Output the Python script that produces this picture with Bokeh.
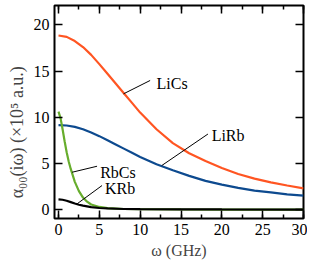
from bokeh.plotting import figure
from bokeh.models import LinearAxis, SingleIntervalTicker, Range1d, Label, CustomLabelingPolicy
from bokeh.embed import file_html
from bokeh.resources import INLINE

# ---- data ----
omega_main = [0, 1, 2, 3, 4, 5, 6, 7, 8, 9, 10, 12, 14, 16, 18, 20, 22, 24, 26, 28, 30]
lics = [18.85, 18.7, 18.25, 17.6, 16.75, 15.75, 14.7, 13.65, 12.6, 11.55, 10.5,
        8.7, 7.2, 6.1, 5.25, 4.5, 3.85, 3.35, 2.95, 2.6, 2.3]
lirb = [9.15, 9.1, 8.95, 8.7, 8.35, 7.95, 7.5, 7.05, 6.6, 6.15, 5.7,
        4.9, 4.25, 3.65, 3.1, 2.7, 2.35, 2.05, 1.85, 1.65, 1.5]
omega_rbcs = [0, 0.25, 0.5, 0.75, 1, 1.25, 1.5, 1.75, 2, 2.5, 3, 3.5, 4, 5, 6, 8, 10, 15, 20, 30]
rbcs = [10.6, 9.9, 8.7, 7.4, 6.2, 5.2, 4.4, 3.7, 3.0, 2.0, 1.3, 0.85, 0.55, 0.28, 0.15,
        0.06, 0.03, 0.01, 0.0, 0.0]
omega_krb = [0, 0.5, 1, 1.5, 2, 2.5, 3, 4, 5, 6, 8, 10, 15, 20, 30]
krb = [1.1, 1.06, 0.95, 0.8, 0.65, 0.52, 0.42, 0.27, 0.17, 0.12, 0.06, 0.04, 0.02, 0.01, 0.0]

series_names = ["LiCs", "LiRb", "RbCs", "KRb"]
series_colors = ["#FF5522", "#0D4A8F", "#67AD2D", "#000000"]
# label anchor (data coords) and leader lines
label_x = [12.0, 18.75, 5.1, 5.7]
label_y = [13.7, 8.0, 4.05, 2.25]
leader_x0 = [7.96, 12.65, 1.67, 2.28]
leader_y0 = [12.53, 4.77, 4.04, 0.62]
leader_x1 = [11.22, 18.3, 4.72, 5.33]
leader_y1 = [13.98, 8.18, 4.69, 2.6]

FONT = "'Liberation Serif', 'Times New Roman', serif"
Y_LABEL = "α₀₀(iω)  (×10⁵ a.u.)\u2002\u2002\u2002\u2002"

p = figure(width=307, height=268, output_backend="svg", toolbar_location=None,
           x_range=Range1d(-0.49, 30), y_range=Range1d(-0.97, 22.1),
           x_axis_type=None, y_axis_type=None,
           min_border_left=54, min_border_right=3, min_border_top=5, min_border_bottom=50)
p.title.visible = False
p.grid.visible = False
p.outline_line_color = "black"
p.outline_line_width = 2
p.background_fill_color = "white"
p.border_fill_color = "white"


def make_axis(minor, show_labels, standoff):
    ax = LinearAxis(ticker=SingleIntervalTicker(interval=5, num_minor_ticks=minor))
    ax.axis_line_color = None
    ax.major_tick_in = 8
    ax.major_tick_out = 0
    ax.major_tick_line_width = 1.5
    ax.minor_tick_in = 4
    ax.minor_tick_out = 0
    ax.minor_tick_line_width = 1.5
    if minor == 0:
        ax.minor_tick_line_color = None
    ax.major_label_text_font = FONT
    ax.major_label_text_font_size = "16px"
    ax.major_label_text_color = "black"
    ax.major_label_standoff = standoff
    if not show_labels:
        ax.major_label_policy = CustomLabelingPolicy(code="return new Set()")
        ax.major_label_text_font_size = "1px"
        ax.major_label_standoff = 0
    return ax


xb = make_axis(2, True, 5)
xb.axis_label = "ω (GHz)"
xb.axis_label_text_font = FONT
xb.axis_label_text_font_size = "16px"
xb.axis_label_text_font_style = "normal"
xb.axis_label_standoff = 4
p.add_layout(xb, "below")
xt = make_axis(2, False, 0)
p.add_layout(xt, "above")
yl = make_axis(0, True, 5)
yl.axis_label = Y_LABEL
yl.axis_label_text_font = FONT
yl.axis_label_text_font_size = "18px"
yl.axis_label_text_font_style = "normal"
yl.axis_label_standoff = 4
p.add_layout(yl, "left")
yr = make_axis(0, False, 0)
p.add_layout(yr, "right")

p.line(omega_main, lics, line_color=series_colors[0], line_width=2.2)
p.line(omega_main, lirb, line_color=series_colors[1], line_width=2.2)
p.line(omega_rbcs, rbcs, line_color=series_colors[2], line_width=2.2)
p.line(omega_krb, krb, line_color=series_colors[3], line_width=2.2)

p.segment(x0=leader_x0, y0=leader_y0, x1=leader_x1, y1=leader_y1,
          line_color="black", line_width=1)

for name, lx, ly in zip(series_names, label_x, label_y):
    p.add_layout(Label(x=lx, y=ly, text=name, text_font=FONT, text_font_size="16px",
                       text_color="black", text_align="left", text_baseline="alphabetic"))

open("out.html", "w").write(file_html(p, INLINE))
